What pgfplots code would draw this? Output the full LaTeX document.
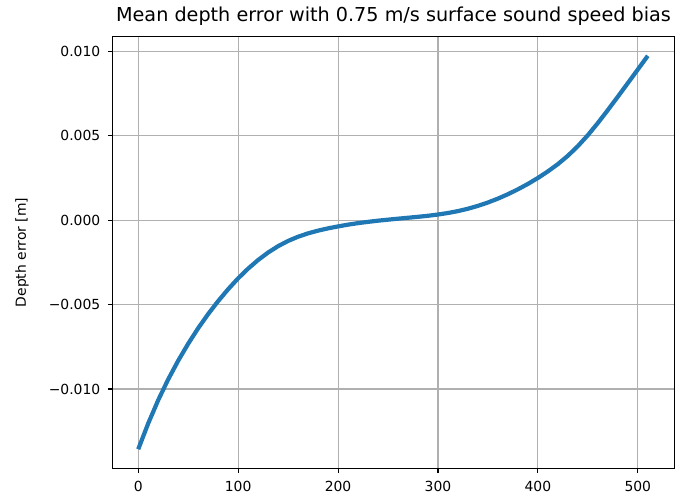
\documentclass[border=0pt]{standalone}
\usepackage{pgfplots}
\pgfplotsset{compat=1.18}
\usepackage{fontspec}
\setmainfont{DejaVu Sans}
\definecolor{cblue}{HTML}{1F77B4}
\definecolor{gridgray}{HTML}{B0B0B0}
\begin{document}
\begin{tikzpicture}
\path[use as bounding box] (-112.7pt,-29.7pt) rectangle (567.3pt,468.3pt);
\begin{axis}[
  at={(0,0)}, anchor=south west,
  scale only axis, width=561.6pt, height=431.6pt,
  xmin=-25.55, xmax=536.55, ymin=-0.01470, ymax=0.01087,
  xtick={0,100,200,300,400,500},
  xticklabels={0,100,200,300,400,500},
  ytick={-0.01,-0.005,0,0.005,0.01},
  yticklabels={−0.010,−0.005,0.000,0.005,0.010},
  scaled y ticks=false, scaled x ticks=false,
  tick align=outside, major tick length=4.9pt,
  every tick/.style={black, line width=1.1pt},
  xtick pos=bottom, ytick pos=left,
  grid=major, major grid style={color=gridgray, line width=1.1pt},
  axis line style={line width=1.1pt},
  tick label style={font=\fontsize{13.9}{16}\selectfont},
  xticklabel style={anchor=north, yshift=-4pt},
  yticklabel style={anchor=east, xshift=-4pt},
  title={Mean depth error with 0.75 m/s surface sound speed bias},
  title style={font=\fontsize{19.2}{22}\selectfont, at={(axis description cs:0.5,1)}, anchor=base, yshift=9.5pt},
  ylabel={Depth error [m]},
  ylabel style={font=\fontsize{13.9}{16}\selectfont, at={(axis description cs:-0.1615,0.5)}, anchor=center},
]
\addplot[cblue, line width=4.2pt] table[y expr=\thisrow{y}*0.00001] {
x y
0 -1357
10 -1204
20 -1066
30 -943
40 -832.5
50 -732
60 -640
70 -556
80 -479.5
90 -409
100 -344.5
110 -287
120 -236
130 -191.5
140 -154
150 -123
160 -98
170 -78
180 -62
190 -48.5
200 -37
210 -26.5
220 -17.5
230 -10
240 -3
250 3
260 8.8
270 14.3
280 20
290 26
300 33.5
310 42.5
320 53.75
330 67.75
340 84.75
350 104.75
360 127.75
370 153.75
380 182.75
390 214.75
400 250
410 289
420 332
430 381.5
440 438.5
450 503.5
460 575.5
470 652.25
480 731.5
490 811.75
500 892.5
510 973.75
};
\end{axis}
\end{tikzpicture}
\end{document}
